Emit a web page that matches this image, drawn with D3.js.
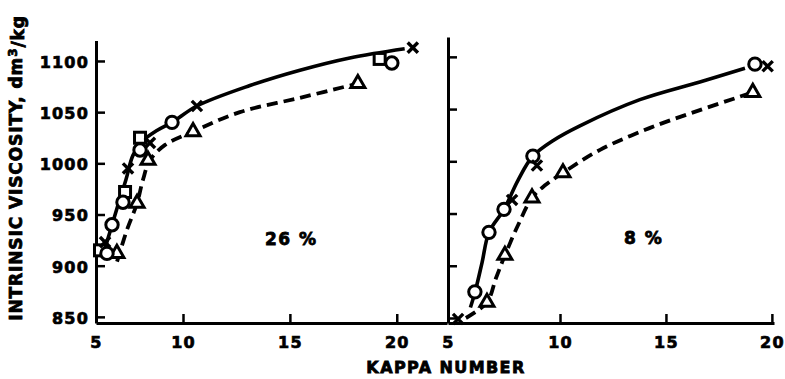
<!DOCTYPE html>
<html>
<head>
<meta charset="utf-8">
<script src="https://cdn.jsdelivr.net/npm/d3@7"></script>
<style>
  body { margin: 0; background: #fff; }
  text { font-family: "DejaVu Sans", sans-serif; font-weight: bold; fill: #000; }
</style>
</head>
<body>
<div id="app"></div>
<script>
// kappa number, intrinsic viscosity
const left_cross = [[5.52, 923], [6.84, 995], [8.1, 1020], [10.65, 1056], [20.75, 1113]];
const left_circle = [[5.63, 912], [5.92, 940], [6.55, 962], [7.53, 1013], [9.37, 1040], [19.77, 1098]];
const left_square = [[5.23, 915], [6.67, 972], [7.53, 1025], [19.2, 1102]];
const left_tri = [[6.2, 912], [7.36, 961], [7.99, 1003], [10.47, 1031], [18.18, 1078]];
const left_solid = [[5.4, 910], [5.8, 933], [6.26, 959], [6.72, 984], [7.13, 1008], [7.7, 1022],
  [8.5, 1032], [9.37, 1040], [10.65, 1056], [13.13, 1076], [15.47, 1091], [17.8, 1103], [20.37, 1112]];
const left_dash = [[6.21, 904], [6.78, 935], [7.36, 961], [7.7, 984], [8.1, 1003], [8.97, 1018],
  [10.47, 1031], [12.66, 1050], [15.47, 1064], [18.18, 1078]];

const right_cross = [[5.45, 849], [7.86, 963], [8.97, 996], [19.8, 1091]];
const right_circle = [[6.2, 875], [6.83, 932], [7.5, 954], [8.79, 1005], [19.2, 1093]];
const right_tri = [[6.74, 865], [7.54, 910], [8.75, 965], [10.14, 989], [19.1, 1066]];
const right_solid = [[6.0, 860], [6.21, 875], [6.52, 903], [6.83, 932], [7.5, 954], [8.13, 982], [8.79, 1005],
  [9.7, 1020], [10.94, 1034], [13.77, 1059], [16.6, 1076], [18.73, 1089]];
const right_dash = [[5.8, 850], [6.74, 865], [7.14, 888], [7.54, 910], [8.13, 939], [8.75, 965],
  [9.33, 977], [10.14, 989], [11.89, 1011], [14.25, 1032], [16.6, 1049], [19.1, 1066]];

const xTicks = [5, 10, 15, 20];
const yTicks = [850, 900, 950, 1000, 1050, 1100];

var w = 785;
var h = 379;

const svg = d3.select("#app")
  .append("svg")
  .attr("width", w)
  .attr("height", h)
  .style("background-color", "#fff")

const xL = d3.scaleLinear().domain([5, 10, 22.35]).range([96, 183, 447]);
const yL = d3.scaleLinear().domain([844, 1120]).range([323, 40.5]);
const xR = d3.scaleLinear().domain([5, 10, 20.1]).range([448, 560, 774]);
const yR = d3.scaleLinear().domain([845.2, 1119]).range([323, 37]);

function axisStyle(g) {
  g.select(".domain").attr("stroke-width", 3);
  g.selectAll(".tick line").attr("stroke-width", 2.5);
  g.selectAll("text").style("font-size", "16px").attr("fill", "#000")
    .attr("stroke", "#000").attr("stroke-width", 0.7).attr("letter-spacing", 1.2);
}

// left panel axes
svg.append("g")
  .attr("transform", "translate(0," + yL(844) + ")")
  .call(d3.axisBottom(xL).tickValues(xTicks).tickFormat(d3.format("d"))
    .tickSizeInner(-9).tickSizeOuter(0).tickPadding(14))
  .call(axisStyle);
svg.append("g")
  .attr("transform", "translate(" + xL(5) + ",0)")
  .call(d3.axisLeft(yL).tickValues(yTicks).tickFormat(d3.format("d"))
    .tickSizeInner(-9).tickSizeOuter(0).tickPadding(7))
  .call(axisStyle)
  .selectAll("text").attr("dy", "0.4em");

// right panel axes
svg.append("g")
  .attr("transform", "translate(0," + yR(845.2) + ")")
  .call(d3.axisBottom(xR).tickValues(xTicks).tickFormat(d3.format("d"))
    .tickSizeInner(-9).tickSizeOuter(0).tickPadding(14))
  .call(axisStyle);
svg.append("g")
  .attr("transform", "translate(" + xR(5) + ",0)")
  .call(d3.axisLeft(yR).tickValues(yTicks).tickSizeInner(-9).tickSizeOuter(0).tickFormat(""))
  .call(axisStyle);

function drawPanel(x, y, solid, dash, cross, circle, square, tri) {
  const line = d3.line().x(d => x(d[0])).y(d => y(d[1])).curve(d3.curveCatmullRom.alpha(0.5));
  svg.append("path").attr("d", line(solid))
    .attr("fill", "none").attr("stroke", "#000").attr("stroke-width", 3.6);
  svg.append("path").attr("d", line(dash))
    .attr("fill", "none").attr("stroke", "#000").attr("stroke-width", 3.8)
    .attr("stroke-dasharray", "11,6");

  svg.selectAll(null).data(square).enter().append("rect")
    .attr("x", d => x(d[0]) - 5.5).attr("y", d => y(d[1]) - 5.5)
    .attr("width", 11).attr("height", 11)
    .attr("fill", "#fff").attr("stroke", "#000").attr("stroke-width", 3);
  svg.selectAll(null).data(tri).enter().append("path")
    .attr("d", d3.symbol(d3.symbolTriangle, 85))
    .attr("transform", d => "translate(" + x(d[0]) + "," + y(d[1]) + ")")
    .attr("fill", "#fff").attr("stroke", "#000").attr("stroke-width", 3);
  svg.selectAll(null).data(circle).enter().append("circle")
    .attr("cx", d => x(d[0])).attr("cy", d => y(d[1])).attr("r", 6.2)
    .attr("fill", "#fff").attr("stroke", "#000").attr("stroke-width", 3);
  svg.selectAll(null).data(cross).enter().append("path")
    .attr("d", d3.symbol(d3.symbolX, 70))
    .attr("transform", d => "translate(" + x(d[0]) + "," + y(d[1]) + ")")
    .attr("fill", "none").attr("stroke", "#000").attr("stroke-width", 3.4);
}

drawPanel(xL, yL, left_solid, left_dash, left_cross, left_circle, left_square, left_tri);
drawPanel(xR, yR, right_solid, right_dash, right_cross, right_circle, [], right_tri);

// labels
svg.append("text")
  .attr("x", 265).attr("y", 245)
  .style("font-size", "17px").attr("stroke", "#000").attr("stroke-width", 0.8)
  .attr("letter-spacing", 1.5)
  .text("26 %");
svg.append("text")
  .attr("x", 624).attr("y", 244)
  .style("font-size", "17px").attr("stroke", "#000").attr("stroke-width", 0.8)
  .attr("letter-spacing", 1.5)
  .text("8 %");

svg.append("text")
  .attr("x", 446).attr("y", 373)
  .style("text-anchor", "middle").style("font-size", "16px")
  .attr("stroke", "#000").attr("stroke-width", 0.8)
  .attr("letter-spacing", 1.4)
  .text("KAPPA NUMBER");

const yTitle = svg.append("text")
  .attr("transform", "translate(22," + 168 + ") rotate(-90)")
  .style("text-anchor", "middle").style("font-size", "17px")
  .attr("stroke", "#000").attr("stroke-width", 0.8)
  .attr("letter-spacing", 0.9);
yTitle.append("tspan").text("INTRINSIC VISCOSITY, dm");
yTitle.append("tspan").attr("dy", "-0.45em").style("font-size", "12px").text("3");
yTitle.append("tspan").attr("dy", "0.45em").text("/kg");
</script>
</body>
</html>
